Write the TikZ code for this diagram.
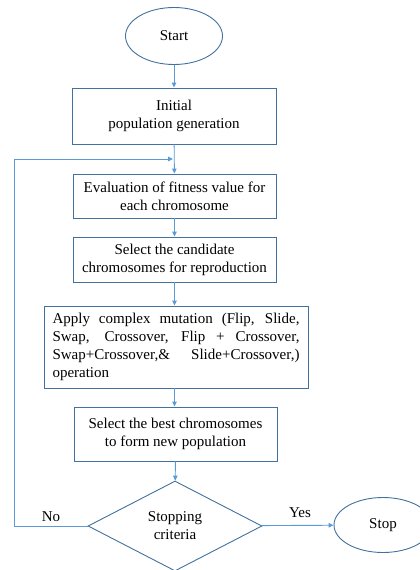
\documentclass[tikz,border=0pt]{standalone}
\usepackage{fontspec}
\setmainfont{Liberation Serif}
\usetikzlibrary{shapes.geometric,arrows.meta}
\definecolor{boxc}{HTML}{41719C}
\definecolor{arrc}{HTML}{5B9BD5}
\begin{document}
\begin{tikzpicture}[x=1pt,y=-1pt,
  every node/.style={font=\fontsize{15}{18}\selectfont},
  boxstyle/.style={draw=boxc,line width=0.9pt,rectangle,align=center,inner sep=0pt},
  ellstyle/.style={draw=boxc,line width=0.9pt,ellipse,inner sep=0pt},
  diastyle/.style={draw=boxc,line width=0.9pt,diamond,inner sep=0pt,align=center},
  conn/.style={draw=arrc,line width=0.9pt,-{Triangle[length=5pt,width=4.5pt]}},
  plainconn/.style={draw=arrc,line width=0.9pt}]
\useasboundingbox (0,0) rectangle (420,570);
\node[ellstyle,minimum width=97pt,minimum height=57pt] (start) at (174,36) {Start};
\node[boxstyle,minimum width=204pt,minimum height=56pt] (init) at (174,116) {Initial\\population generation};
\node[boxstyle,minimum width=203pt,minimum height=44pt] (eval) at (174.5,196) {Evaluation of fitness value for\\each chromosome};
\node[boxstyle,minimum width=203pt,minimum height=45pt] (sel) at (174.5,259.5) {Select the candidate\\chromosomes for reproduction};
\node[boxstyle,minimum width=264pt,minimum height=82pt,align=left] (apply) at (176,347) {\makebox[247pt][s]{Apply complex mutation (Flip, Slide,}\\\makebox[247pt][s]{Swap,\quad Crossover, Flip + Crossover,}\\\makebox[247pt][s]{Swap+Crossover,\&\hfill Slide+Crossover,)}\\operation};
\node[boxstyle,minimum width=203pt,minimum height=54pt] (best) at (175.5,434) {Select the best chromosomes\\to form new population};
\node[diastyle,minimum width=174pt,minimum height=90pt] (crit) at (175,526) {Stopping\\criteria};
\node[ellstyle,minimum width=98pt,minimum height=55pt] (stop) at (383,525) {Stop};
\coordinate (loopL) at (14,526);
\coordinate (loopT) at (14,159);
\coordinate (loopE) at (173,159);
\draw[conn] (start) -- (init);
\draw[conn] (init) -- (eval);
\draw[conn] (eval) -- (sel);
\draw[conn] (sel) -- (sel|-apply.north);
\draw[conn] (sel|-apply.south) -- (sel|-best.north);
\draw[conn] (best) -- (crit);
\draw[conn] (crit) -- (stop);
\draw[conn] (crit.west) -- (loopL) -- (loopT) -- (loopE);
\node[inner sep=0pt] (yes) at (300,513) {Yes};
\node[inner sep=0pt] (no) at (51,517) {No};
\end{tikzpicture}
\end{document}
